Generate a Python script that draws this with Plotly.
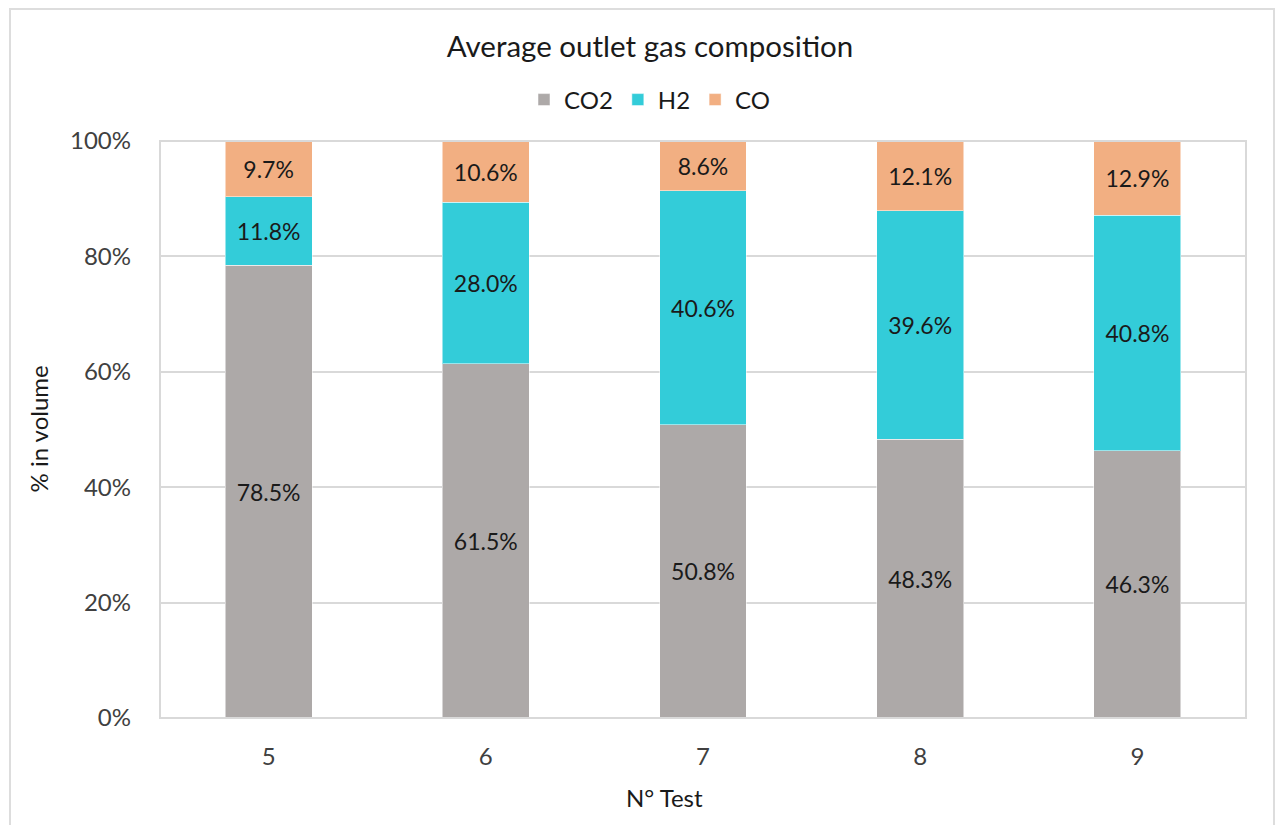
import plotly.graph_objects as go

# Test numbers and gas composition (% in volume)
tests = ["5", "6", "7", "8", "9"]
co2 = [78.5, 61.5, 50.8, 48.3, 46.3]
h2 = [11.8, 28.0, 40.6, 39.6, 40.8]
co = [9.7, 10.6, 8.6, 12.1, 12.9]

series = [
    ("CO2", co2, "#ADA9A8"),
    ("H2", h2, "#33CCD9"),
    ("CO", co, "#F2AF82"),
]

FONT = "Lato, 'Open Sans', sans-serif"
TEXT = "#404040"
DARK = "#1a1a1a"

W, H = 1275, 825
L, R, T, B = 160, 29, 141, 107

fig = go.Figure()
for name, vals, color in series:
    fig.add_trace(go.Bar(
        name=name,
        x=tests,
        y=vals,
        marker=dict(color=color, line=dict(color="rgba(255,255,255,0.5)", width=1)),
        text=[f"{v:.1f}%" for v in vals],
        textposition="inside",
        insidetextanchor="middle",
        textangle=0,
        constraintext="none",
        textfont=dict(family=FONT, size=23, color=DARK),
    ))

fig.update_layout(
    width=W, height=H,
    barmode="stack",
    barnorm="percent",
    bargap=0.6,
    plot_bgcolor="white",
    paper_bgcolor="white",
    margin=dict(l=L, r=R, t=T, b=B, autoexpand=False),
    font=dict(family=FONT, size=24, color=TEXT),
    title=dict(
        text="Average outlet gas composition",
        font=dict(family=FONT, size=29.5, color=DARK),
        x=650 / W, xanchor="center", xref="container",
        y=1 - 47 / H, yanchor="middle", yref="container",
    ),
    legend=dict(
        orientation="h",
        x=650 / W, xref="container", xanchor="center",
        y=1 - 100 / H, yref="container", yanchor="middle",
        font=dict(family=FONT, size=24, color=DARK),
        itemwidth=30,
        traceorder="normal",
    ),
    xaxis=dict(
        showgrid=False,
        showline=False,
        ticks="",
        ticklabelstandoff=22,
        tickfont=dict(family=FONT, size=24, color=TEXT),
    ),
    yaxis=dict(
        range=[0, 100],
        dtick=20,
        ticksuffix="%",
        showgrid=True,
        gridcolor="#D9D9D9",
        gridwidth=1.5,
        zeroline=False,
        showline=False,
        ticks="",
        ticklabelstandoff=28,
        tickfont=dict(family=FONT, size=24, color=TEXT),
    ),
)

# Plot-area frame
fig.add_shape(type="rect", xref="paper", yref="paper", x0=0, x1=1, y0=0, y1=1,
              line=dict(color="#D9D9D9", width=2), layer="above")

# Outer chart frame
pw = W - L - R
ph = H - T - B
fig.add_shape(type="rect", xref="paper", yref="paper",
              x0=(10 - L) / pw, x1=(1274 - L) / pw,
              y0=-(840 - (H - B)) / ph, y1=1 + (T - 9) / ph,
              line=dict(color="#DDDDDD", width=2))

# Axis titles
fig.add_annotation(text="N° Test", xref="paper", yref="paper",
                   x=(664 - L) / pw, y=-(797 - (H - B)) / ph,
                   showarrow=False, xanchor="center", yanchor="middle",
                   font=dict(family=FONT, size=24, color=DARK))
fig.add_annotation(text="% in volume", xref="paper", yref="paper",
                   x=(38 - L) / pw, y=0.5, textangle=-90,
                   showarrow=False, xanchor="center", yanchor="middle",
                   font=dict(family=FONT, size=24, color=DARK))

fig.write_html("out.html")
